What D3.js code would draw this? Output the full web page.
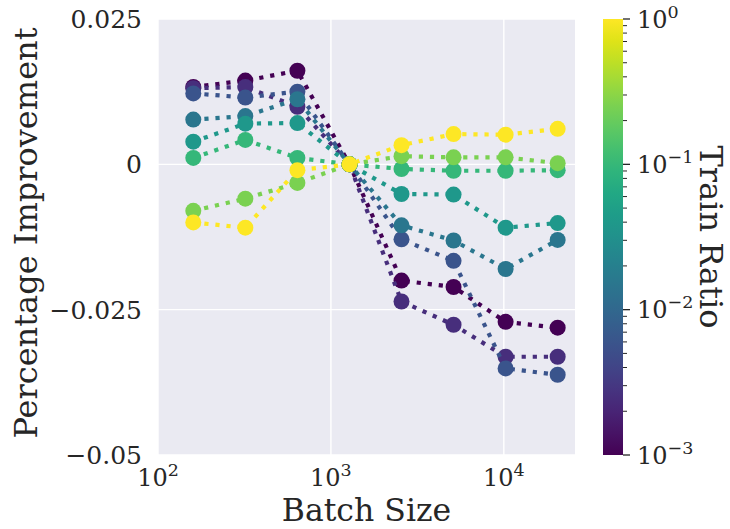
<!DOCTYPE html>
<html>
<head>
<meta charset="utf-8">
<script src="https://cdn.jsdelivr.net/npm/d3@7"></script>
<style>
  body { margin: 0; background: #fff; }
  text { font-family: "DejaVu Serif", serif; fill: #262626; }
</style>
</head>
<body>
<div id="chart"></div>
<script>

const batchSizes = [160, 320, 640, 1280, 2560, 5120, 10240, 20480]
const trainRatios = [0.001, 0.0025, 0.006, 0.015, 0.04, 0.1, 0.25, 1]

// percentage improvement per train ratio
const ratio0001 = [0.0133, 0.0144, 0.0161, 0, -0.0200, -0.0211, -0.0271, -0.0281]
const ratio00025 = [0.0131, 0.0133, 0.0099, 0, -0.0236, -0.0276, -0.0331, -0.0331]
const ratio0006 = [0.0122, 0.0115, 0.0125, 0, -0.0129, -0.0166, -0.0351, -0.0362]
const ratio0015 = [0.0077, 0.0083, 0.0112, 0, -0.0105, -0.0131, -0.0180, -0.0130]
const ratio004 = [0.0039, 0.0070, 0.0071, 0, -0.0051, -0.0052, -0.0109, -0.0101]
const ratio01 = [0.0011, 0.0042, 0.0011, 0, -0.0008, -0.0011, -0.0011, -0.0010]
const ratio025 = [-0.0080, -0.0059, -0.0032, 0, 0.0014, 0.0012, 0.0012, 0.0002]
const ratio1 = [-0.0100, -0.0109, -0.0010, 0, 0.0033, 0.0052, 0.0051, 0.0061]

const seriesValues = [ratio0001, ratio00025, ratio0006, ratio0015, ratio004, ratio01, ratio025, ratio1]

const yTicks = [0.025, 0, -0.025, -0.05]
const yTickLabels = ['0.025', '0', '\u22120.025', '\u22120.05']
const xTicks = [100, 1000, 10000]
const xTickExps = ['2', '3', '4']
const cbTicks = [1, 0.1, 0.01, 0.001]
const cbTickExps = ['0', '\u22121', '\u22122', '\u22123']

const width = 730
const height = 529
const plotLeft = 158
const plotRight = 575
const plotTop = 19
const plotBottom = 455

const svg = d3.select('#chart')
    .append('svg')
    .attr('width', width)
    .attr('height', height)

let xScale = d3.scaleLog()
    .domain([100, 25800])
    .range([plotLeft, plotRight])

let yScale = d3.scaleLinear()
    .domain([-0.05, 0.025])
    .range([plotBottom, plotTop])

let color = d3.scaleSequentialLog(d3.interpolateViridis)
    .domain([0.001, 1])

svg.append('rect')
    .attr('x', plotLeft)
    .attr('y', plotTop)
    .attr('width', plotRight - plotLeft)
    .attr('height', plotBottom - plotTop)
    .attr('fill', '#eaeaf2')

// grid
svg.selectAll('.vgrid')
    .data(xTicks)
    .enter()
    .append('line')
    .attr('x1', d => xScale(d))
    .attr('x2', d => xScale(d))
    .attr('y1', plotTop)
    .attr('y2', plotBottom)
    .attr('stroke', '#fff')
    .attr('stroke-width', 1.4)

svg.selectAll('.hgrid')
    .data(yTicks)
    .enter()
    .append('line')
    .attr('x1', plotLeft)
    .attr('x2', plotRight)
    .attr('y1', d => yScale(d))
    .attr('y2', d => yScale(d))
    .attr('stroke', '#fff')
    .attr('stroke-width', 1.4)

// y tick labels
svg.selectAll('.ylab')
    .data(yTicks)
    .enter()
    .append('text')
    .attr('x', plotLeft - 16)
    .attr('y', d => yScale(d))
    .attr('dy', '0.36em')
    .attr('text-anchor', 'end')
    .style('font-size', '25px')
    .text((d, i) => yTickLabels[i])

// x tick labels with exponents
xTicks.forEach((t, i) => {
    let label = svg.append('text')
        .attr('x', xScale(t))
        .attr('y', 486)
        .attr('text-anchor', 'middle')
        .style('font-size', '24px')
    label.append('tspan').text('10')
    label.append('tspan')
        .attr('dy', -10)
        .style('font-size', '17.5px')
        .text(xTickExps[i])
})

svg.append('text')
    .attr('x', (plotLeft + plotRight) / 2)
    .attr('y', 521)
    .attr('text-anchor', 'middle')
    .style('font-size', '31.5px')
    .text('Batch Size')

svg.append('text')
    .attr('transform', 'translate(37,' + ((plotTop + plotBottom) / 2 - 4) + ') rotate(-90)')
    .attr('text-anchor', 'middle')
    .style('font-size', '32px')
    .text('Percentage Improvement')

// series
let line = d3.line()
    .x((d, i) => xScale(batchSizes[i]))
    .y(d => yScale(d))

seriesValues.forEach((values, s) => {
    let c = color(trainRatios[s])
    let g = svg.append('g')
    g.append('path')
        .attr('d', line(values))
        .attr('fill', 'none')
        .attr('stroke', c)
        .attr('stroke-width', 4.2)
        .attr('stroke-dasharray', '4.2,6.9')
    g.selectAll('circle')
        .data(values)
        .enter()
        .append('circle')
        .attr('cx', (d, i) => xScale(batchSizes[i]))
        .attr('cy', d => yScale(d))
        .attr('r', 8)
        .attr('fill', c)
})

// colorbar
const cbLeft = 603
const cbRight = 623

let cbScale = d3.scaleLog()
    .domain([0.001, 1])
    .range([plotBottom, plotTop])

let grad = svg.append('defs')
    .append('linearGradient')
    .attr('id', 'viridis')
    .attr('x1', 0).attr('y1', 1)
    .attr('x2', 0).attr('y2', 0)

d3.range(0, 1.0001, 0.05).forEach(t => {
    grad.append('stop')
        .attr('offset', t)
        .attr('stop-color', d3.interpolateViridis(t))
})

svg.append('rect')
    .attr('x', cbLeft)
    .attr('y', plotTop)
    .attr('width', cbRight - cbLeft)
    .attr('height', plotBottom - plotTop)
    .attr('fill', 'url(#viridis)')

let minorTicks = []
for (let e = -3; e < 0; e++) {
    for (let m = 2; m < 10; m++) minorTicks.push(m * Math.pow(10, e))
}

svg.selectAll('.cbminor')
    .data(minorTicks)
    .enter()
    .append('line')
    .attr('x1', cbRight)
    .attr('x2', cbRight + 4)
    .attr('y1', d => cbScale(d))
    .attr('y2', d => cbScale(d))
    .attr('stroke', '#262626')
    .attr('stroke-width', 1)

svg.selectAll('.cbmajor')
    .data(cbTicks)
    .enter()
    .append('line')
    .attr('x1', cbRight)
    .attr('x2', cbRight + 7)
    .attr('y1', d => cbScale(d))
    .attr('y2', d => cbScale(d))
    .attr('stroke', '#262626')
    .attr('stroke-width', 1.3)

cbTicks.forEach((t, i) => {
    let label = svg.append('text')
        .attr('x', 637)
        .attr('y', cbScale(t))
        .attr('dy', '0.36em')
        .style('font-size', '24px')
    label.append('tspan').text('10')
    label.append('tspan')
        .attr('dy', -10)
        .style('font-size', '17.5px')
        .text(cbTickExps[i])
})

svg.append('text')
    .attr('transform', 'translate(700,' + ((plotTop + plotBottom) / 2) + ') rotate(90)')
    .attr('text-anchor', 'middle')
    .style('font-size', '32px')
    .text('Train Ratio')

</script>
</body>
</html>
